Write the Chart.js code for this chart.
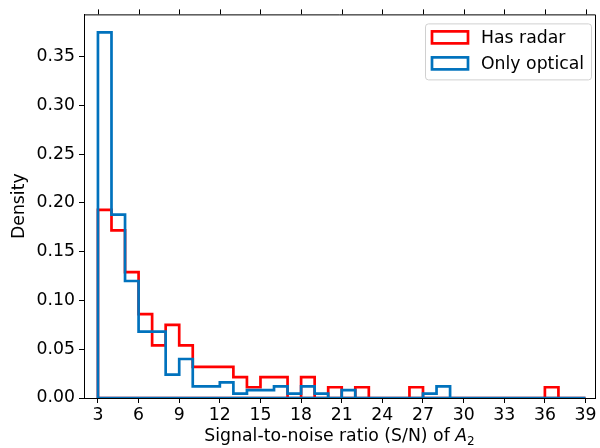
<!DOCTYPE html>
<html>
<head>
<meta charset="utf-8">
<script src="https://cdn.jsdelivr.net/npm/chart.js@4"></script>
<style>
  html, body { margin: 0; padding: 0; background: #fff; }
  #wrap { width: 600px; height: 448px; position: relative; }
</style>
</head>
<body>
<div id="wrap"><canvas id="hist"></canvas></div>
<script>
// bin edges 3..39, width 1
const binEdges = [3,4,5,6,7,8,9,10,11,12,13,14,15,16,17,18,19,20,21,22,23,24,25,26,27,28,29,30,31,32,33,34,35,36,37,38,39];

const hasRadar = [0.193, 0.172, 0.129, 0.086, 0.054, 0.075, 0.054, 0.032, 0.032, 0.032,
                  0.0215, 0.011, 0.0215, 0.0215, 0, 0.0215, 0, 0.011, 0, 0.011,
                  0, 0, 0, 0.011, 0, 0, 0, 0, 0, 0,
                  0, 0, 0, 0.011, 0, 0];
const onlyOptical = [0.375, 0.188, 0.120, 0.068, 0.068, 0.024, 0.040, 0.012, 0.012, 0.016,
                     0.0045, 0.008, 0.008, 0.012, 0.0045, 0.012, 0.0045, 0, 0.008, 0,
                     0, 0, 0, 0, 0.0045, 0.012, 0, 0, 0, 0,
                     0, 0, 0, 0, 0, 0];

const xTicks = [3, 6, 9, 12, 15, 18, 21, 24, 27, 30, 33, 36, 39];
const yTicks = [0, 0.05, 0.10, 0.15, 0.20, 0.25, 0.30, 0.35];

const FONT = "'DejaVu Sans', sans-serif";
const FS = 17.3;

// outline of a step histogram, closed along the baseline like matplotlib
function stepOutline(vals) {
  const pts = [{ x: binEdges[0], y: 0 }];
  vals.forEach((v, i) => {
    pts.push({ x: binEdges[i], y: v });
    pts.push({ x: binEdges[i + 1], y: v });
  });
  pts.push({ x: binEdges[binEdges.length - 1], y: 0 });
  pts.push({ x: binEdges[0], y: 0 });
  return pts;
}

const frame = {
  id: "frame",
  afterDraw(chart) {
    const ctx = chart.ctx;
    const a = chart.chartArea;
    const xs = chart.scales.x;
    ctx.save();
    ctx.strokeStyle = "#000";
    ctx.lineWidth = 1;
    // top and right spines
    ctx.beginPath();
    ctx.moveTo(a.left, a.top + 0.5);
    ctx.lineTo(a.right + 0.5, a.top + 0.5);
    ctx.lineTo(a.right + 0.5, a.bottom);
    ctx.stroke();
    // mirrored ticks on top
    xTicks.forEach(v => {
      const px = Math.round(xs.getPixelForValue(v)) + 0.5;
      ctx.beginPath();
      ctx.moveTo(px, a.top);
      ctx.lineTo(px, a.top - 5);
      ctx.stroke();
    });

    // legend
    const bw = 166, bh = 56;
    const bx = a.right - 4 - bw, by = a.top + 9;
    ctx.beginPath();
    ctx.roundRect(bx + 0.5, by + 0.5, bw, bh, 3);
    ctx.fillStyle = "rgba(255,255,255,0.8)";
    ctx.fill();
    ctx.strokeStyle = "#d0d0d0";
    ctx.stroke();
    ctx.font = FS + "px " + FONT;
    ctx.textBaseline = "middle";
    ctx.textAlign = "left";
    chart.data.datasets.forEach((ds, i) => {
      const ry = by + 8 + i * 26;
      ctx.lineWidth = 2.7;
      ctx.strokeStyle = ds.borderColor;
      ctx.strokeRect(bx + 7, ry, 36, 12);
      ctx.fillStyle = "#000";
      ctx.fillText(ds.label, bx + 56, ry + 7);
    });

    // axis titles
    ctx.fillStyle = "#000";
    ctx.font = FS + "px " + FONT;
    const part1 = "Signal-to-noise ratio (S/N) of ";
    const w1 = ctx.measureText(part1).width;
    ctx.font = "italic " + FS + "px " + FONT;
    const wA = ctx.measureText("A").width;
    ctx.font = "12px " + FONT;
    const w2 = ctx.measureText("2").width;
    const total = w1 + wA + w2;
    let tx = (a.left + a.right) / 2 - total / 2;
    const ty = 437;
    ctx.textBaseline = "middle";
    ctx.font = FS + "px " + FONT;
    ctx.fillText(part1, tx, ty);
    tx += w1;
    ctx.font = "italic " + FS + "px " + FONT;
    ctx.fillText("A", tx, ty);
    tx += wA;
    ctx.font = "12px " + FONT;
    ctx.fillText("2", tx, ty + 5);

    ctx.font = FS + "px " + FONT;
    ctx.translate(20, (a.top + a.bottom) / 2);
    ctx.rotate(-Math.PI / 2);
    ctx.textAlign = "center";
    ctx.fillText("Density", 0, 0);
    ctx.restore();
  }
};

new Chart(document.getElementById("hist"), {
  type: "scatter",
  data: {
    datasets: [
      {
        label: "Has radar",
        data: stepOutline(hasRadar),
        borderColor: "#ff0000",
        borderWidth: 2.7,
        showLine: true,
        pointRadius: 0,
        fill: false,
        tension: 0,
        order: 2
      },
      {
        label: "Only optical",
        data: stepOutline(onlyOptical),
        borderColor: "#0072bd",
        borderWidth: 2.7,
        showLine: true,
        pointRadius: 0,
        fill: false,
        tension: 0,
        order: 1
      }
    ]
  },
  options: {
    responsive: true,
    maintainAspectRatio: false,
    animation: false,
    layout: { padding: { top: 13, right: 5, left: 0, bottom: 0 } },
    plugins: {
      legend: { display: false },
      tooltip: { enabled: false }
    },
    scales: {
      x: {
        type: "linear",
        min: 1.97,
        max: 39.7,
        afterBuildTicks: s => { s.ticks = xTicks.map(v => ({ value: v })); },
        afterFit: s => { s.height = 50; },
        ticks: {
          callback: v => String(v),
          color: "#000",
          font: { family: FONT, size: FS },
          padding: 2,
          maxRotation: 0,
          autoSkip: false
        },
        grid: { drawOnChartArea: false, tickLength: 5, color: "#000" },
        border: { color: "#000", width: 1 }
      },
      y: {
        min: 0,
        max: 0.3934,
        afterBuildTicks: s => { s.ticks = yTicks.map(v => ({ value: v })); },
        afterFit: s => { s.width = 84; },
        ticks: {
          callback: v => v.toFixed(2),
          color: "#000",
          font: { family: FONT, size: FS },
          padding: 4,
          autoSkip: false
        },
        grid: { drawOnChartArea: false, tickLength: 5, color: "#000" },
        border: { color: "#000", width: 1 }
      }
    }
  },
  plugins: [frame]
});
</script>
</body>
</html>
